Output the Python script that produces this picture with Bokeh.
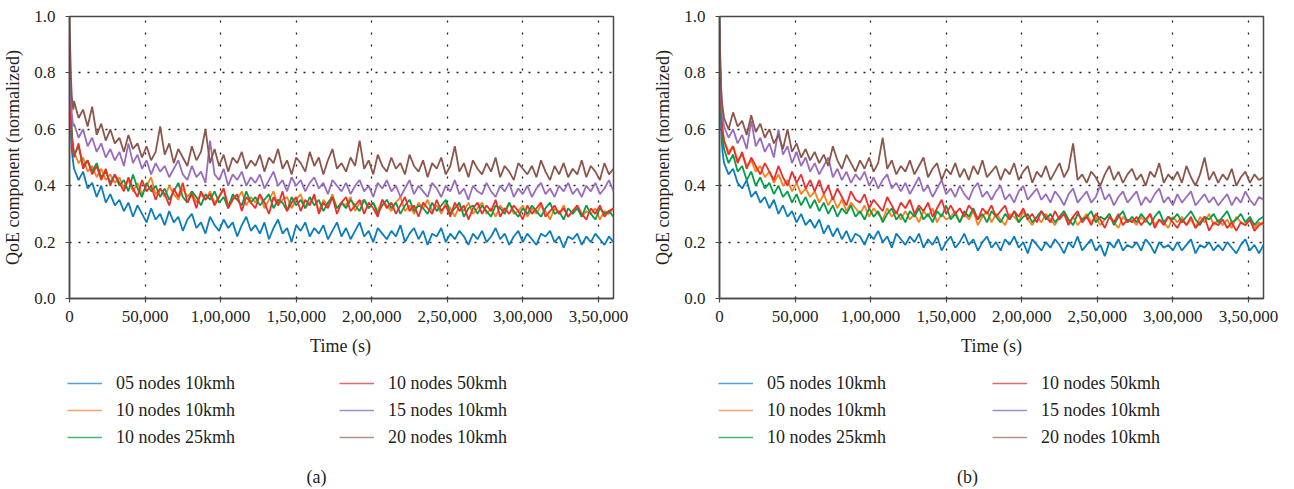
from bokeh.plotting import figure
from bokeh.models import Range1d, Legend, LegendItem, Label, FixedTicker, NumeralTickFormatter
from bokeh.layouts import row, column
from bokeh.embed import file_html
from bokeh.resources import INLINE

# ---------------- data ----------------
T = [0, 500, 1000, 1500, 2000, 2500] + list(range(3000, 360001, 3000))

SERIES_NAMES = ["05 nodes 10kmh", "10 nodes 10kmh", "10 nodes 25kmh",
                "10 nodes 50kmh", "15 nodes 10kmh", "20 nodes 10kmh"]
COLORS = ["#0a7dc0", "#ff7f1a", "#00a04b", "#ee2e2e", "#9a6cbf", "#8c564b"]
LEGEND_COLORS = ["#4fa3da", "#ffa460", "#3dbb70", "#e46a6a", "#9a8fd0", "#b09488"]

XTICKS = [0, 50000, 100000, 150000, 200000, 250000, 300000, 350000]
XTICK_LABELS = ["0", "50,000", "1,00,000", "1,50,000", "2,00,000", "2,50,000", "3,00,000", "3,50,000"]
YTICKS = [0.0, 0.2, 0.4, 0.6, 0.8, 1.0]

# ---- panel (a) ----
a_05n10 = [0.82, 0.66, 0.58, 0.53, 0.50, 0.48,
           0.46, 0.42, 0.45, 0.39, 0.41, 0.36, 0.40, 0.34, 0.37, 0.33,
           0.35, 0.31, 0.34, 0.29, 0.33, 0.30, 0.27, 0.32, 0.28, 0.30,
           0.26, 0.31, 0.27, 0.29, 0.24, 0.28, 0.30, 0.25, 0.27, 0.23,
           0.29, 0.26, 0.24, 0.28, 0.25, 0.27, 0.22, 0.26, 0.29, 0.24,
           0.26, 0.23, 0.27, 0.21, 0.25, 0.28, 0.23, 0.25, 0.20, 0.26,
           0.24, 0.27, 0.22, 0.25, 0.23, 0.26, 0.21, 0.24, 0.27, 0.22,
           0.25, 0.21, 0.24, 0.27, 0.22, 0.24, 0.20, 0.25, 0.23, 0.21,
           0.24, 0.22, 0.26, 0.20, 0.23, 0.25, 0.21, 0.24, 0.19, 0.23,
           0.22, 0.25, 0.20, 0.23, 0.21, 0.24, 0.22, 0.19, 0.23, 0.21,
           0.24, 0.20, 0.22, 0.25, 0.21, 0.23, 0.19, 0.22, 0.24, 0.20,
           0.23, 0.21, 0.19, 0.23, 0.22, 0.24, 0.20, 0.22, 0.18, 0.22,
           0.21, 0.23, 0.19, 0.22, 0.20, 0.23, 0.21, 0.19, 0.22, 0.20]
a_10n10 = [0.90, 0.72, 0.63, 0.58, 0.55, 0.53,
           0.52, 0.48, 0.50, 0.45, 0.47, 0.43, 0.46, 0.42, 0.44, 0.41,
           0.43, 0.39, 0.42, 0.38, 0.41, 0.37, 0.40, 0.43, 0.37, 0.39,
           0.36, 0.40, 0.37, 0.35, 0.39, 0.36, 0.38, 0.34, 0.37, 0.35,
           0.38, 0.34, 0.36, 0.39, 0.33, 0.36, 0.35, 0.38, 0.33, 0.36,
           0.34, 0.37, 0.32, 0.35, 0.38, 0.33, 0.35, 0.36, 0.32, 0.35,
           0.37, 0.32, 0.34, 0.36, 0.31, 0.35, 0.33, 0.37, 0.32, 0.34,
           0.33, 0.36, 0.31, 0.34, 0.35, 0.32, 0.34, 0.31, 0.35, 0.33,
           0.31, 0.34, 0.36, 0.31, 0.33, 0.30, 0.34, 0.32, 0.35, 0.31,
           0.33, 0.30, 0.34, 0.32, 0.29, 0.33, 0.31, 0.34, 0.30, 0.32,
           0.34, 0.30, 0.32, 0.29, 0.33, 0.31, 0.34, 0.30, 0.31, 0.33,
           0.29, 0.32, 0.30, 0.33, 0.31, 0.28, 0.32, 0.30, 0.33, 0.29,
           0.31, 0.33, 0.29, 0.31, 0.30, 0.32, 0.28, 0.31, 0.30, 0.32]
a_10n25 = [0.88, 0.74, 0.65, 0.60, 0.56, 0.54,
           0.51, 0.54, 0.47, 0.49, 0.45, 0.48, 0.43, 0.45, 0.41, 0.44,
           0.40, 0.42, 0.38, 0.44, 0.39, 0.36, 0.41, 0.38, 0.40, 0.36,
           0.39, 0.35, 0.38, 0.41, 0.36, 0.34, 0.38, 0.36, 0.33, 0.37,
           0.35, 0.38, 0.34, 0.36, 0.32, 0.37, 0.35, 0.33, 0.38, 0.34,
           0.36, 0.33, 0.35, 0.37, 0.32, 0.35, 0.34, 0.31, 0.36, 0.33,
           0.35, 0.32, 0.36, 0.33, 0.35, 0.31, 0.34, 0.36, 0.32, 0.34,
           0.32, 0.35, 0.33, 0.31, 0.35, 0.32, 0.34, 0.30, 0.33, 0.35,
           0.32, 0.34, 0.30, 0.33, 0.35, 0.31, 0.33, 0.32, 0.30, 0.34,
           0.31, 0.33, 0.35, 0.30, 0.32, 0.34, 0.29, 0.32, 0.33, 0.30,
           0.33, 0.31, 0.29, 0.33, 0.32, 0.30, 0.34, 0.31, 0.29, 0.32,
           0.30, 0.33, 0.31, 0.29, 0.32, 0.34, 0.30, 0.31, 0.28, 0.32,
           0.30, 0.32, 0.29, 0.33, 0.30, 0.28, 0.32, 0.30, 0.31, 0.29]
a_10n50 = [0.87, 0.70, 0.62, 0.57, 0.54, 0.52,
           0.50, 0.55, 0.46, 0.49, 0.44, 0.47, 0.42, 0.46, 0.40, 0.44,
           0.41, 0.38, 0.43, 0.39, 0.36, 0.42, 0.38, 0.40, 0.35, 0.39,
           0.37, 0.33, 0.39, 0.36, 0.41, 0.34, 0.37, 0.32, 0.38, 0.35,
           0.37, 0.33, 0.36, 0.39, 0.32, 0.35, 0.37, 0.31, 0.36, 0.34,
           0.32, 0.37, 0.34, 0.30, 0.36, 0.33, 0.38, 0.31, 0.34, 0.36,
           0.31, 0.35, 0.33, 0.37, 0.30, 0.34, 0.32, 0.36, 0.30, 0.34,
           0.36, 0.31, 0.33, 0.35, 0.30, 0.34, 0.32, 0.29, 0.35, 0.32,
           0.34, 0.30, 0.33, 0.36, 0.31, 0.33, 0.29, 0.34, 0.32, 0.30,
           0.35, 0.31, 0.33, 0.29, 0.34, 0.31, 0.33, 0.28, 0.32, 0.34,
           0.30, 0.33, 0.31, 0.35, 0.29, 0.32, 0.30, 0.33, 0.31, 0.28,
           0.33, 0.30, 0.32, 0.34, 0.29, 0.31, 0.33, 0.30, 0.32, 0.29,
           0.31, 0.33, 0.30, 0.28, 0.32, 0.30, 0.33, 0.29, 0.31, 0.32]
a_15n10 = [0.92, 0.78, 0.70, 0.66, 0.63, 0.61,
           0.62, 0.57, 0.60, 0.54, 0.57, 0.52, 0.55, 0.50, 0.53, 0.49,
           0.52, 0.47, 0.55, 0.48, 0.51, 0.46, 0.49, 0.44, 0.48, 0.45,
           0.47, 0.43, 0.46, 0.49, 0.44, 0.42, 0.47, 0.43, 0.45, 0.41,
           0.56, 0.44, 0.42, 0.46, 0.40, 0.44, 0.42, 0.45, 0.40, 0.43,
           0.41, 0.44, 0.39, 0.42, 0.45, 0.40, 0.42, 0.38, 0.43, 0.40,
           0.42, 0.38, 0.41, 0.43, 0.39, 0.41, 0.37, 0.42, 0.40, 0.38,
           0.41, 0.37, 0.40, 0.42, 0.38, 0.40, 0.36, 0.41, 0.39, 0.42,
           0.38, 0.40, 0.36, 0.39, 0.42, 0.37, 0.40, 0.38, 0.36, 0.41,
           0.39, 0.36, 0.40, 0.38, 0.42, 0.37, 0.39, 0.35, 0.40, 0.38,
           0.37, 0.41, 0.38, 0.36, 0.40, 0.38, 0.41, 0.36, 0.39, 0.37,
           0.40, 0.36, 0.39, 0.41, 0.37, 0.39, 0.36, 0.40, 0.38, 0.41,
           0.37, 0.39, 0.36, 0.40, 0.38, 0.41, 0.37, 0.39, 0.42, 0.38]
a_20n10 = [1.00, 0.88, 0.78, 0.72, 0.69, 0.67,
           0.70, 0.64, 0.67, 0.61, 0.68, 0.58, 0.62, 0.56, 0.60, 0.55,
           0.57, 0.52, 0.58, 0.53, 0.55, 0.50, 0.54, 0.49, 0.52, 0.61,
           0.51, 0.55, 0.48, 0.53, 0.50, 0.47, 0.54, 0.49, 0.52, 0.60,
           0.48, 0.53, 0.47, 0.51, 0.45, 0.50, 0.48, 0.52, 0.46, 0.49,
           0.47, 0.51, 0.45, 0.50, 0.48, 0.53, 0.46, 0.49, 0.44, 0.50,
           0.48, 0.45, 0.52, 0.47, 0.50, 0.44, 0.49, 0.53, 0.46, 0.48,
           0.45, 0.50, 0.47, 0.56, 0.46, 0.49, 0.44, 0.51, 0.47, 0.45,
           0.50, 0.46, 0.48, 0.44, 0.51, 0.47, 0.45, 0.49, 0.43, 0.48,
           0.46, 0.50, 0.44, 0.47, 0.54, 0.45, 0.48, 0.43, 0.49, 0.46,
           0.44, 0.48, 0.45, 0.50, 0.43, 0.47, 0.45, 0.42, 0.48, 0.46,
           0.44, 0.47, 0.43, 0.49, 0.45, 0.42, 0.47, 0.44, 0.48, 0.43,
           0.46, 0.44, 0.49, 0.43, 0.47, 0.45, 0.42, 0.48, 0.44, 0.46]

# ---- panel (b) ----
b_05n10 = [1.00, 0.74, 0.62, 0.56, 0.52, 0.50,
           0.48, 0.44, 0.46, 0.41, 0.39, 0.42, 0.36, 0.38, 0.34, 0.36,
           0.32, 0.35, 0.30, 0.33, 0.29, 0.31, 0.27, 0.30, 0.26, 0.28,
           0.25, 0.28, 0.23, 0.26, 0.22, 0.25, 0.21, 0.24, 0.20, 0.23,
           0.22, 0.19, 0.23, 0.21, 0.24, 0.20, 0.22, 0.18, 0.23, 0.21,
           0.19, 0.22, 0.20, 0.23, 0.18, 0.21, 0.19, 0.22, 0.17, 0.20,
           0.22, 0.18, 0.20, 0.23, 0.19, 0.21, 0.17, 0.20, 0.22, 0.18,
           0.20, 0.17, 0.21, 0.19, 0.22, 0.18, 0.20, 0.16, 0.21, 0.19,
           0.17, 0.20, 0.18, 0.21, 0.19, 0.16, 0.20, 0.18, 0.22, 0.17,
           0.19, 0.21, 0.17, 0.19, 0.15, 0.20, 0.18, 0.21, 0.17, 0.19,
           0.18, 0.20, 0.17, 0.21, 0.19, 0.16, 0.20, 0.18, 0.19, 0.17,
           0.20, 0.17, 0.19, 0.21, 0.16, 0.19, 0.18, 0.20, 0.17, 0.19,
           0.17, 0.20, 0.18, 0.16, 0.19, 0.21, 0.17, 0.19, 0.16, 0.19]
b_10n10 = [0.95, 0.78, 0.69, 0.63, 0.60, 0.58,
           0.56, 0.52, 0.54, 0.49, 0.51, 0.47, 0.49, 0.45, 0.47, 0.43,
           0.45, 0.41, 0.44, 0.40, 0.42, 0.38, 0.41, 0.37, 0.39, 0.36,
           0.38, 0.34, 0.37, 0.33, 0.36, 0.32, 0.35, 0.31, 0.34, 0.32,
           0.30, 0.33, 0.29, 0.32, 0.30, 0.28, 0.32, 0.29, 0.31, 0.28,
           0.31, 0.28, 0.30, 0.27, 0.31, 0.29, 0.32, 0.27, 0.30, 0.28,
           0.29, 0.31, 0.27, 0.30, 0.28, 0.31, 0.26, 0.29, 0.31, 0.27,
           0.30, 0.28, 0.26, 0.30, 0.29, 0.27, 0.31, 0.28, 0.26, 0.29,
           0.27, 0.30, 0.28, 0.26, 0.29, 0.31, 0.27, 0.29, 0.26, 0.28,
           0.30, 0.27, 0.29, 0.26, 0.28, 0.30, 0.27, 0.25, 0.29, 0.27,
           0.28, 0.26, 0.29, 0.27, 0.30, 0.26, 0.28, 0.27, 0.25, 0.29,
           0.27, 0.29, 0.26, 0.28, 0.25, 0.29, 0.27, 0.30, 0.26, 0.28,
           0.26, 0.28, 0.25, 0.29, 0.27, 0.26, 0.28, 0.25, 0.27, 0.26]
b_10n25 = [0.93, 0.77, 0.67, 0.61, 0.57, 0.55,
           0.53, 0.48, 0.51, 0.45, 0.47, 0.42, 0.45, 0.40, 0.43, 0.39,
           0.41, 0.37, 0.40, 0.36, 0.38, 0.34, 0.37, 0.33, 0.36, 0.32,
           0.35, 0.31, 0.34, 0.30, 0.33, 0.29, 0.32, 0.30, 0.33, 0.29,
           0.31, 0.28, 0.32, 0.29, 0.31, 0.27, 0.30, 0.32, 0.28, 0.30,
           0.27, 0.31, 0.29, 0.32, 0.28, 0.30, 0.27, 0.31, 0.29, 0.33,
           0.28, 0.30, 0.27, 0.31, 0.29, 0.32, 0.28, 0.30, 0.27, 0.31,
           0.29, 0.27, 0.30, 0.28, 0.31, 0.27, 0.29, 0.30, 0.27, 0.29,
           0.31, 0.28, 0.30, 0.27, 0.29, 0.31, 0.28, 0.26, 0.30, 0.28,
           0.29, 0.31, 0.27, 0.29, 0.28, 0.30, 0.26, 0.29, 0.31, 0.27,
           0.29, 0.27, 0.30, 0.28, 0.26, 0.29, 0.31, 0.27, 0.29, 0.28,
           0.30, 0.27, 0.29, 0.31, 0.28, 0.26, 0.29, 0.28, 0.30, 0.27,
           0.29, 0.31, 0.27, 0.28, 0.30, 0.27, 0.29, 0.26, 0.28, 0.29]
b_10n50 = [0.96, 0.80, 0.70, 0.64, 0.60, 0.58,
           0.56, 0.51, 0.54, 0.48, 0.52, 0.46, 0.50, 0.47, 0.44, 0.48,
           0.45, 0.42, 0.47, 0.43, 0.40, 0.45, 0.41, 0.44, 0.39, 0.42,
           0.38, 0.42, 0.37, 0.40, 0.35, 0.39, 0.36, 0.33, 0.38, 0.35,
           0.34, 0.37, 0.32, 0.35, 0.33, 0.31, 0.36, 0.33, 0.30, 0.34,
           0.32, 0.35, 0.30, 0.33, 0.31, 0.34, 0.29, 0.32, 0.35, 0.30,
           0.33, 0.30, 0.32, 0.29, 0.33, 0.31, 0.28, 0.32, 0.30, 0.33,
           0.29, 0.31, 0.33, 0.28, 0.31, 0.29, 0.32, 0.28, 0.30, 0.27,
           0.31, 0.29, 0.27, 0.31, 0.28, 0.30, 0.26, 0.29, 0.31, 0.27,
           0.29, 0.26, 0.30, 0.28, 0.25, 0.29, 0.27, 0.30, 0.26, 0.28,
           0.27, 0.29, 0.26, 0.28, 0.30, 0.25, 0.28, 0.26, 0.29, 0.27,
           0.25, 0.28, 0.26, 0.29, 0.25, 0.27, 0.29, 0.24, 0.27, 0.26,
           0.28, 0.25, 0.27, 0.24, 0.27, 0.26, 0.28, 0.24, 0.26, 0.27]
b_15n10 = [0.97, 0.82, 0.73, 0.68, 0.65, 0.63,
           0.61, 0.57, 0.60, 0.55, 0.58, 0.53, 0.63, 0.54, 0.57, 0.52,
           0.55, 0.50, 0.60, 0.51, 0.54, 0.48, 0.52, 0.47, 0.50, 0.45,
           0.48, 0.44, 0.47, 0.50, 0.43, 0.46, 0.42, 0.45, 0.41, 0.44,
           0.42, 0.45, 0.40, 0.43, 0.39, 0.42, 0.44, 0.39, 0.41, 0.38,
           0.41, 0.37, 0.40, 0.43, 0.38, 0.40, 0.36, 0.39, 0.42, 0.37,
           0.39, 0.36, 0.40, 0.37, 0.35, 0.39, 0.41, 0.36, 0.38, 0.35,
           0.38, 0.40, 0.35, 0.37, 0.34, 0.38, 0.40, 0.35, 0.37, 0.39,
           0.35, 0.37, 0.34, 0.38, 0.36, 0.33, 0.37, 0.39, 0.34, 0.36,
           0.38, 0.34, 0.36, 0.40, 0.35, 0.37, 0.33, 0.36, 0.38, 0.34,
           0.36, 0.38, 0.33, 0.36, 0.34, 0.37, 0.39, 0.34, 0.36, 0.33,
           0.37, 0.34, 0.36, 0.38, 0.33, 0.35, 0.37, 0.34, 0.36, 0.33,
           0.35, 0.37, 0.33, 0.36, 0.34, 0.38, 0.35, 0.33, 0.36, 0.35]
b_20n10 = [1.00, 0.86, 0.76, 0.71, 0.68, 0.66,
           0.64, 0.60, 0.66, 0.61, 0.63, 0.58, 0.65, 0.59, 0.62, 0.57,
           0.60, 0.55, 0.58, 0.53, 0.60, 0.52, 0.55, 0.50, 0.53, 0.49,
           0.52, 0.48, 0.51, 0.47, 0.54, 0.49, 0.46, 0.51, 0.48, 0.45,
           0.49, 0.46, 0.50, 0.45, 0.48, 0.57, 0.46, 0.49, 0.44, 0.47,
           0.45, 0.49, 0.44, 0.47, 0.50, 0.43, 0.46, 0.48, 0.42, 0.46,
           0.44, 0.48, 0.43, 0.46, 0.42, 0.47, 0.44, 0.49, 0.43, 0.45,
           0.47, 0.42, 0.46, 0.44, 0.48, 0.42, 0.45, 0.47, 0.41, 0.45,
           0.43, 0.47, 0.42, 0.45, 0.48, 0.43, 0.46, 0.55, 0.42, 0.44,
           0.41, 0.45, 0.43, 0.40, 0.44, 0.47, 0.42, 0.45, 0.41, 0.44,
           0.46, 0.42, 0.44, 0.40, 0.45, 0.43, 0.48, 0.41, 0.44, 0.42,
           0.45, 0.41, 0.47, 0.43, 0.40, 0.44, 0.50, 0.42, 0.45, 0.41,
           0.44, 0.42, 0.46, 0.40, 0.43, 0.45, 0.41, 0.44, 0.42, 0.43]

PANEL_A = [a_05n10, a_10n10, a_10n25, a_10n50, a_15n10, a_20n10]
PANEL_B = [b_05n10, b_10n10, b_10n25, b_10n50, b_15n10, b_20n10]
PANEL_TAGS = ["(a)", "(b)"]

for s in PANEL_A + PANEL_B:
    assert len(s) == len(T), (len(s), len(T))

FONT = "Liberation Serif"
TEXT_COLOR = "#231f20"
FRAME_COLOR = "#4a4a4a"


def make_panel(series, border_left, border_right):
    p = figure(width=647, height=336, output_backend="svg", toolbar_location=None,
               x_range=Range1d(0, 360000), y_range=Range1d(0, 1),
               min_border_left=border_left, min_border_right=border_right,
               min_border_top=16, min_border_bottom=38)
    p.outline_line_color = FRAME_COLOR
    p.outline_line_width = 1.5

    for ys, c in zip(series, COLORS):
        p.line(T, ys, line_color=c, line_width=1.8)

    p.xaxis.ticker = FixedTicker(ticks=XTICKS)
    p.xaxis.major_label_overrides = {t: l for t, l in zip(XTICKS, XTICK_LABELS)}
    p.yaxis.ticker = FixedTicker(ticks=YTICKS)
    p.yaxis.formatter = NumeralTickFormatter(format="0.0")
    p.yaxis.axis_label = "QoE component (normalized)"
    for ax in (p.xaxis, p.yaxis):
        ax.axis_label_text_font = FONT
        ax.axis_label_text_font_style = "normal"
        ax.axis_label_text_font_size = "18px"
        ax.axis_label_text_color = TEXT_COLOR
        ax.major_label_text_font = FONT
        ax.major_label_text_font_size = "17px"
        ax.major_label_text_color = TEXT_COLOR
        ax.axis_line_color = FRAME_COLOR
        ax.axis_line_width = 1.5
        ax.major_tick_line_color = FRAME_COLOR
        ax.major_tick_line_width = 1.2
        ax.major_tick_in = 0
        ax.major_tick_out = 4
        ax.minor_tick_line_color = None
    p.xaxis.major_label_standoff = 8
    p.yaxis.major_label_standoff = 10
    p.yaxis.axis_label_standoff = 8

    p.xgrid.ticker = FixedTicker(ticks=XTICKS)
    p.ygrid.ticker = FixedTicker(ticks=YTICKS)
    p.xgrid.grid_line_dash = "2 10"
    p.ygrid.grid_line_dash = "2 7"
    for g in (p.xgrid, p.ygrid):
        g.grid_line_color = "#222222"
        g.grid_line_width = 1.3
    return p


def make_legend_area(series, tag, col_x, text_x):
    # the series are drawn here once more, far outside this area's visible ranges,
    # only so that the legend has renderers to show
    q = figure(width=647, height=153, output_backend="svg", toolbar_location=None,
               x_range=Range1d(-2, -1), y_range=Range1d(-2, -1),
               x_axis_type=None, y_axis_type=None, min_border=0)
    q.outline_line_color = None
    q.background_fill_alpha = 0
    q.grid.visible = False
    proxies = [q.line(T, ys, line_color=c, line_width=1.5) for ys, c in zip(series, LEGEND_COLORS)]
    for k, xoff in enumerate(col_x):
        items = [LegendItem(label=SERIES_NAMES[i], renderers=[proxies[i]])
                 for i in range(3 * k, 3 * k + 3)]
        lg = Legend(items=items, location=(xoff, 41), orientation="vertical",
                    padding=0, margin=0, spacing=5, label_height=22, glyph_height=22,
                    glyph_width=35, label_standoff=14,
                    label_text_font=FONT, label_text_font_size="18px",
                    label_text_color=TEXT_COLOR, label_text_baseline="middle",
                    background_fill_alpha=0, border_line_color=None)
        q.add_layout(lg)
    q.add_layout(Label(x=text_x[0], y=144, x_units="screen", y_units="screen", text="Time (s)",
                       text_align="center", text_baseline="middle",
                       text_font=FONT, text_font_size="18px", text_color=TEXT_COLOR))
    q.add_layout(Label(x=text_x[1], y=13, x_units="screen", y_units="screen", text=tag,
                       text_align="center", text_baseline="middle",
                       text_font=FONT, text_font_size="18px", text_color=TEXT_COLOR))
    return q


pa = make_panel(PANEL_A, 68, 34)
pb = make_panel(PANEL_B, 72, 31)
la = make_legend_area(PANEL_A, PANEL_TAGS[0], [67, 339], [340, 316])
lb = make_legend_area(PANEL_B, PANEL_TAGS[1], [71, 345], [344, 320])
layout = column(row(pa, pb), row(la, lb))

open("out.html", "w").write(file_html(layout, INLINE))
